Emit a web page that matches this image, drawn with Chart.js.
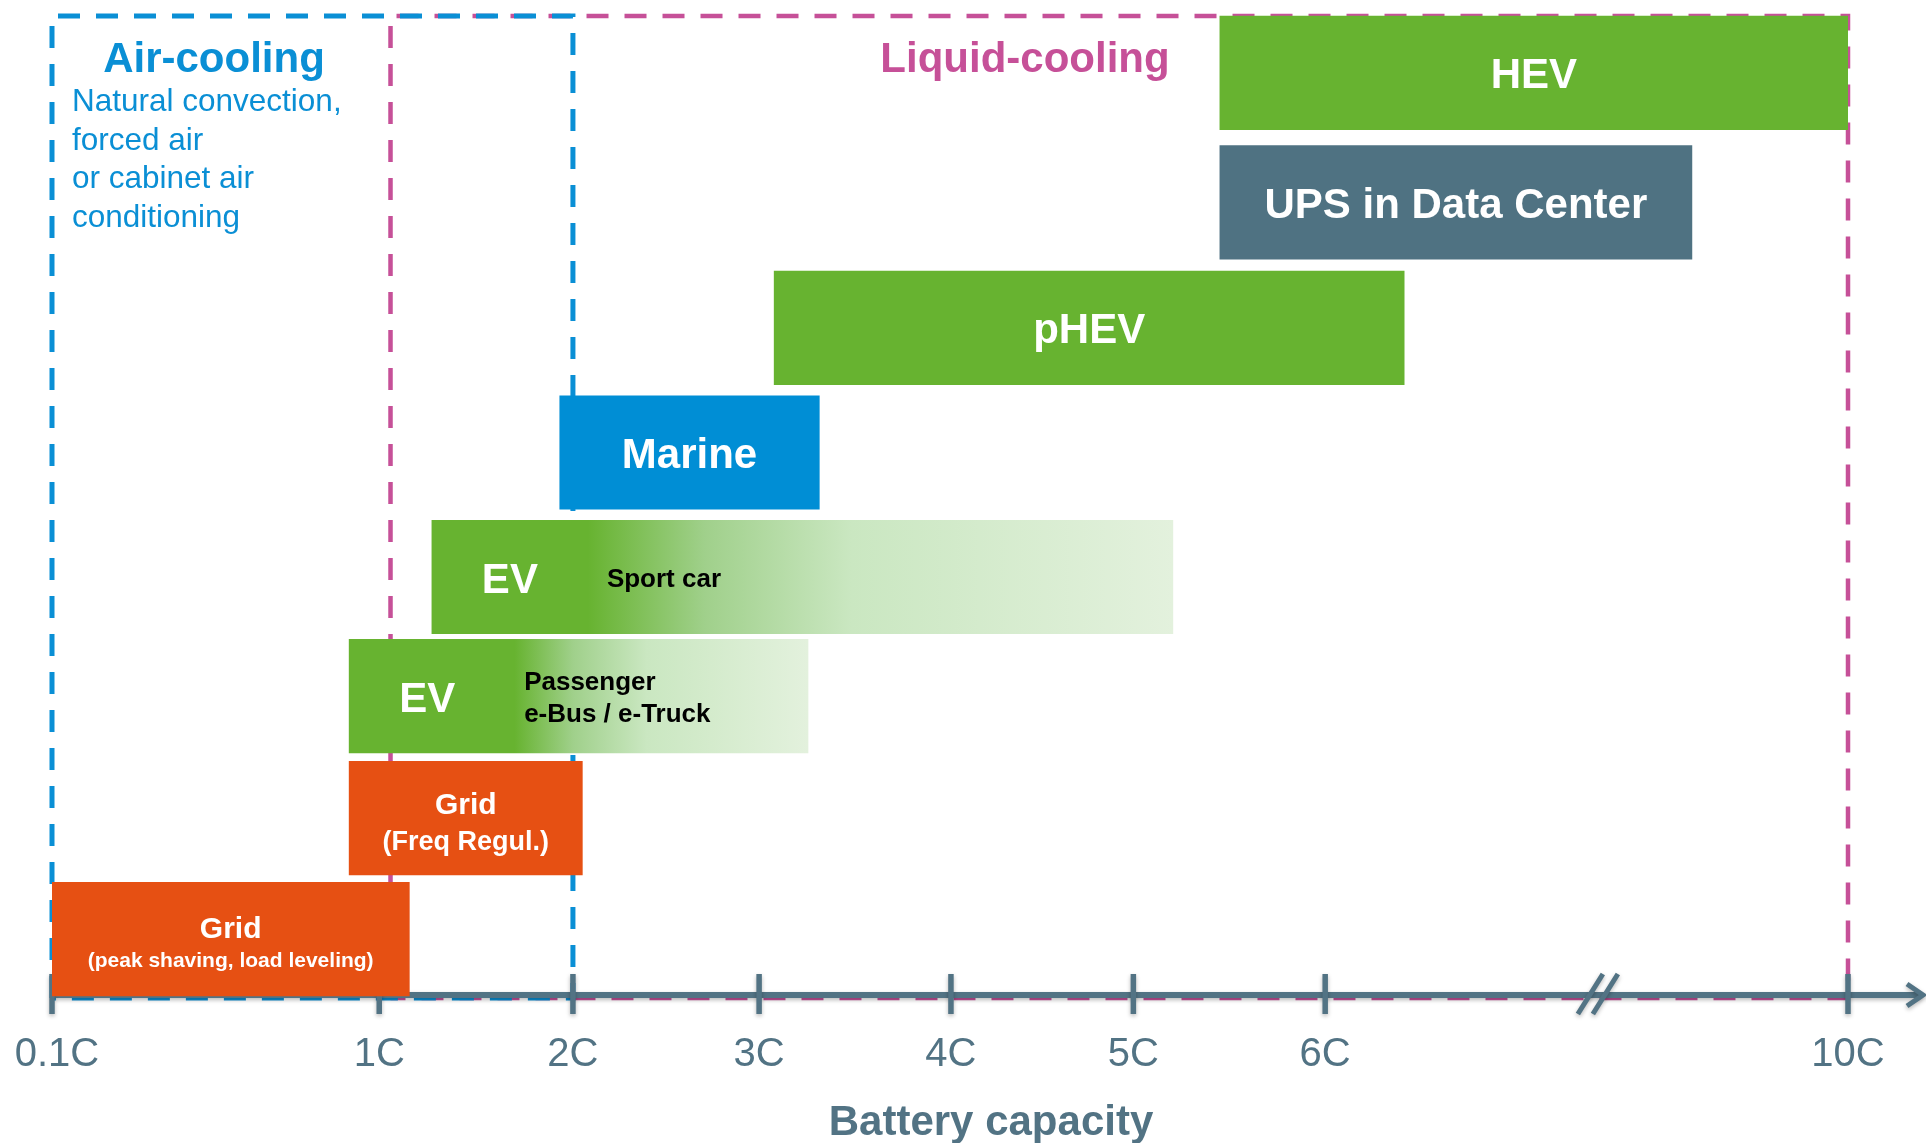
<!DOCTYPE html>
<html>
<head>
<meta charset="utf-8">
<script src="https://cdn.jsdelivr.net/npm/chart.js@4.4.0/dist/chart.umd.min.js"></script>
<style>
  html, body { margin: 0; padding: 0; background: #ffffff; }
  #wrap { width: 1926px; height: 1143px; position: relative; }
  canvas { display: block; }
</style>
</head>
<body>
<div id="wrap"><canvas id="c" width="1926" height="1143"></canvas></div>
<script>
// ---------- DATA (x in axis position units: 2C..6C are 1 unit apart; 0.1C, 1C and 10C placed as drawn) ----------
const categories = [
  'HEV',
  'UPS in Data Center',
  'pHEV',
  'Marine',
  'EV – Sport car',
  'EV – Passenger, e-Bus / e-Truck',
  'Grid (Freq Regul.)',
  'Grid (peak shaving, load leveling)'
];
const rowPositions = [0, 1.047, 2.061, 3.068, 4.074, 5.036, 6.022, 7.0];   // rows as laid out in the diagram
const rangeStart = [5.44, 5.44, 3.07, 1.93, 1.25, 0.81, 0.81, -0.77];
const rangeEnd   = [8.78, 7.95, 6.42, 3.31, 5.19, 3.25, 2.05, 1.13];
const fadeFrom   = [null, null, null, null, 2.08, 1.69, null, null];   // where the EV bars start fading out
const barKind    = ['green', 'slate', 'green', 'blue', 'green', 'green', 'orange', 'orange'];
const mainLabels = ['HEV', 'UPS in Data Center', 'pHEV', 'Marine', 'EV', 'EV', 'Grid', 'Grid'];
const subLabels  = [[], [], [], [], ['Sport car'], ['Passenger', 'e-Bus / e-Truck'], ['(Freq Regul.)'], ['(peak shaving, load leveling)']];

const tickLabels    = ['0.1C', '1C', '2C', '3C', '4C', '5C', '6C', '10C'];
const tickPositions = [-0.77, 0.97, 2, 2.99, 4.01, 4.98, 6, 8.78];
const axisBreakAt   = 7.45;
const airCoolingSpan    = [-0.77, 2.0];
const liquidCoolingSpan = [1.03, 8.78];
const axisTitle = 'Battery capacity';
const airTitle = 'Air-cooling';
const airLines = ['Natural convection,', 'forced air', 'or cabinet air', 'conditioning'];
const liquidTitle = 'Liquid-cooling';

// ---------- STYLE ----------
const FONT = '"Liberation Sans", Arial, Helvetica, sans-serif';
const COLORS = {
  green: '#67B330', slate: '#4F7282', blue: '#008ED5', orange: '#E65013',
  axis: '#527384', magenta: '#C65098', airBlue: '#0A8FD5'
};

function barColor(ctx) {
  const i = ctx.dataIndex;
  const base = COLORS[barKind[i]];
  if (fadeFrom[i] === null) return base;
  const chart = ctx.chart;
  if (!chart.chartArea) return base;
  const xs = chart.scales.x;
  const x0 = xs.getPixelForValue(rangeStart[i]);
  const x1 = xs.getPixelForValue(rangeEnd[i]);
  const xf = xs.getPixelForValue(fadeFrom[i]);
  const g = chart.ctx.createLinearGradient(x0, 0, x1, 0);
  const f = (xf - x0) / (x1 - x0);
  g.addColorStop(0, base);
  g.addColorStop(f, base);
  g.addColorStop(f + (1 - f) * 0.2, '#A0D08B');
  g.addColorStop(f + (1 - f) * 0.45, '#CAE7C1');
  g.addColorStop(1, '#E3F1DD');
  return g;
}

function dashedRect(ctx, x0, y0, x1, y1, color, lw) {
  ctx.save();
  ctx.strokeStyle = color;
  ctx.lineWidth = lw;
  ctx.setLineDash([22, 16]);
  ctx.beginPath();
  ctx.moveTo(x0, y1); ctx.lineTo(x0, y0); ctx.lineTo(x1, y0); ctx.lineTo(x1, y1); ctx.lineTo(x0, y1);
  ctx.stroke();
  ctx.restore();
}

const decoPlugin = {
  id: 'deco',
  beforeDatasetsDraw(chart) {
    const ctx = chart.ctx;
    const xs = chart.scales.x;
    const area = chart.chartArea;
    const axisY = area.bottom - 6;
    const boxTop = area.top + 5;
    const boxBottom = axisY + 3;

    // cooling regions
    dashedRect(ctx, xs.getPixelForValue(liquidCoolingSpan[0]), boxTop, xs.getPixelForValue(liquidCoolingSpan[1]), boxBottom, COLORS.magenta, 4.5);
    dashedRect(ctx, xs.getPixelForValue(airCoolingSpan[0]), boxTop, xs.getPixelForValue(airCoolingSpan[1]), boxBottom, COLORS.airBlue, 5);

    // region captions
    ctx.save();
    ctx.textBaseline = 'alphabetic';
    ctx.fillStyle = COLORS.airBlue;
    ctx.font = 'bold 42px ' + FONT;
    ctx.textAlign = 'center';
    ctx.fillText(airTitle, 214, 72);
    ctx.font = '31.5px ' + FONT;
    ctx.textAlign = 'left';
    airLines.forEach((t, k) => ctx.fillText(t, 72, 111 + k * 38.6));
    ctx.fillStyle = COLORS.magenta;
    ctx.font = 'bold 42px ' + FONT;
    ctx.textAlign = 'center';
    ctx.fillText(liquidTitle, 1025, 72);
    ctx.restore();

    // axis with ticks, break and arrow
    ctx.save();
    ctx.strokeStyle = COLORS.axis;
    ctx.shadowColor = 'rgba(0,0,0,0.28)';
    ctx.shadowBlur = 4;
    ctx.shadowOffsetY = 2;
    ctx.lineWidth = 6;
    const x0 = xs.getPixelForValue(tickPositions[0]);
    const tipX = chart.width - 3;
    ctx.beginPath();
    ctx.moveTo(x0, axisY); ctx.lineTo(tipX - 2, axisY);
    ctx.stroke();
    ctx.lineWidth = 5;
    ctx.beginPath();
    ctx.moveTo(tipX - 16, axisY - 11); ctx.lineTo(tipX, axisY); ctx.lineTo(tipX - 16, axisY + 11);
    ctx.stroke();
    ctx.lineWidth = 5.5;
    tickPositions.forEach(v => {
      const px = xs.getPixelForValue(v);
      ctx.beginPath();
      ctx.moveTo(px, axisY - 21); ctx.lineTo(px, axisY + 19);
      ctx.stroke();
    });
    const bx = xs.getPixelForValue(axisBreakAt);
    ctx.lineWidth = 5;
    ctx.beginPath();
    ctx.moveTo(bx - 20, axisY + 19); ctx.lineTo(bx + 5, axisY - 21);
    ctx.moveTo(bx - 5, axisY + 19); ctx.lineTo(bx + 20, axisY - 21);
    ctx.stroke();
    ctx.restore();
  },
  afterDatasetsDraw(chart) {
    const ctx = chart.ctx;
    const xs = chart.scales.x;
    const meta = chart.getDatasetMeta(0);
    ctx.save();
    ctx.textBaseline = 'alphabetic';
    meta.data.forEach((el, i) => {
      const left = Math.min(el.x, el.base);
      const right = Math.max(el.x, el.base);
      const cy = el.y;
      const subs = subLabels[i];
      const cx = (left + right) / 2;
      ctx.fillStyle = '#ffffff';
      if (barKind[i] === 'green' && subs.length) {
        // EV bars: label on the solid part, description on the fade
        ctx.font = 'bold 42px ' + FONT;
        ctx.textAlign = 'center';
        ctx.fillText(mainLabels[i], left + 78, cy + 16);
        ctx.fillStyle = '#000000';
        ctx.font = 'bold 26px ' + FONT;
        ctx.textAlign = 'left';
        if (subs.length === 1) {
          ctx.fillText(subs[0], left + 175, cy + 10);
        } else {
          subs.forEach((s, k) => ctx.fillText(s, left + 175, cy - 6 + k * 32));
        }
      } else if (subs.length) {
        const small = subs[0].length > 20;
        ctx.textAlign = 'center';
        ctx.font = 'bold 30px ' + FONT;
        ctx.fillText(mainLabels[i], cx, cy + (small ? -1 : -4));
        ctx.font = (small ? 'bold 21px ' : 'bold 27px ') + FONT;
        ctx.fillText(subs[0], cx, cy + (small ? 28 : 32));
      } else {
        ctx.textAlign = 'center';
        ctx.font = 'bold 42px ' + FONT;
        ctx.fillText(mainLabels[i], cx, cy + 15.5);
      }
    });

    // tick labels and axis title
    ctx.fillStyle = COLORS.axis;
    ctx.textAlign = 'center';
    ctx.font = '40px ' + FONT;
    tickLabels.forEach((t, k) => {
      ctx.fillText(t, xs.getPixelForValue(tickPositions[k]) + (k === 0 ? 5 : 0), 1066);
    });
    ctx.font = 'bold 42px ' + FONT;
    ctx.fillText(axisTitle, 991, 1135);
    ctx.restore();
  }
};

new Chart(document.getElementById('c'), {
  type: 'bar',
  data: {
    datasets: [{
      label: 'Battery capacity range',
      data: rowPositions.map((p, i) => ({ y: p, x: [rangeStart[i], rangeEnd[i]], name: categories[i] })),
      backgroundColor: barColor,
      borderWidth: 0,
      borderSkipped: false,
      barThickness: 113.5
    }]
  },
  options: {
    indexAxis: 'y',
    responsive: false,
    animation: false,
    events: [],
    layout: { padding: { left: 52, right: 78, top: 11, bottom: 142 } },
    plugins: { legend: { display: false }, tooltip: { enabled: false } },
    scales: {
      x: { type: 'linear', min: tickPositions[0], max: tickPositions[tickPositions.length - 1], display: false, offset: false },
      y: { type: 'linear', min: -0.5, max: rowPositions.length - 0.5, reverse: true, display: false, offset: false }
    }
  },
  plugins: [decoPlugin]
});
</script>
</body>
</html>
